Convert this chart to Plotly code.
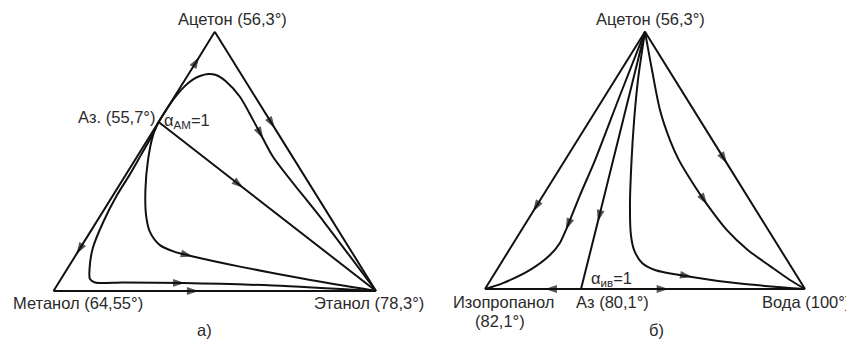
import plotly.graph_objects as go

# ---------------- DATA (triangle-plane coordinates: base 0..100, height 0..100) ----------------
# Left diagram a): Метанол (0,0), Этанол (100,0), Ацетон (50,100), azeotrope on left edge
left_paths = {
    "edge_az_acetone": ([32.6, 44.9, 50.0], [65.2, 89.7, 100.0], [1]),
    "edge_az_methanol": ([32.6, 7.4, 0.0], [65.2, 14.8, 0.0], [1]),
    "edge_acetone_ethanol": ([50.0, 68.3, 100.0], [100.0, 63.4, 0.0], [1]),
    "edge_methanol_ethanol": ([0.0, 44.5, 100.0], [0.0, 0.0, 0.0], [1]),
    "line_az_ethanol": ([32.6, 58.4, 100.0], [65.2, 40.2, 0.0], [1]),
    "curve_upper": ([32.6, 34.9, 37.7, 40.8, 43.3, 45.4, 47.9, 50.4, 53.5, 57.8, 61.9, 64.7, 68.1, 83.9, 100.0],
                    [65.2, 69.8, 74.8, 79.1, 81.6, 82.9, 83.7, 83.3, 80.8, 74.9, 65.9, 59.4, 51.7, 26.6, 0.0], [11]),
    "curve_inner": ([32.6, 30.9, 29.3, 28.5, 28.7, 29.9, 33.0, 37.4, 42.6, 57.8, 78.0, 100.0],
                    [65.2, 60.2, 50.5, 39.0, 29.3, 22.8, 17.7, 15.2, 13.5, 9.4, 4.6, 0.0], [8]),
    "curve_outer": ([32.6, 30.3, 27.1, 23.4, 19.7, 15.5, 12.2, 11.2, 11.3, 12.9, 21.6, 40.2, 68.1, 100.0],
                    [65.2, 59.4, 52.4, 44.4, 37.0, 26.8, 16.6, 8.9, 4.6, 3.3, 3.3, 3.1, 2.1, 0.0], [11]),
}

# Right diagram б): Изопропанол (0,0), Вода (100,0), Ацетон (50,100), azeotrope on base
right_paths = {
    "edge_acetone_ipa": ([50.0, 15.3, 0.0], [100.0, 30.7, 0.0], [1]),
    "edge_acetone_water": ([50.0, 75.3, 100.0], [100.0, 49.4, 0.0], [1]),
    "line_acetone_az": ([50.0, 35.4, 30.0], [100.0, 26.8, 0.0], [1]),
    "base_az_ipa": ([30.0, 19.3, 0.0], [0.0, 0.0, 0.0], [1]),
    "base_az_water": ([30.0, 56.8, 100.0], [0.0, 0.0, 0.0], [1]),
    "curve_to_ipa": ([50.0, 42.2, 34.4, 29.7, 25.5, 23.4, 20.3, 14.1, 5.6, 0.0],
                     [100.0, 75.3, 50.1, 36.5, 23.6, 17.9, 13.2, 7.4, 2.3, 0.0], [4]),
    "curve_sharp": ([50.0, 47.8, 46.6, 45.8, 45.3, 45.6, 46.6, 49.1, 53.1, 64.1, 79.7, 100.0],
                    [100.0, 81.2, 65.6, 50.1, 32.6, 21.0, 15.1, 10.1, 7.4, 4.8, 2.1, 0.0], [9]),
    "curve_to_water": ([50.0, 52.2, 54.7, 57.8, 60.6, 64.7, 69.1, 75.6, 82.2, 89.1, 95.3, 100.0],
                       [100.0, 85.0, 69.5, 57.9, 50.1, 41.6, 33.4, 22.9, 15.1, 8.9, 3.5, 0.0], [6]),
}

left_labels = ["Ацетон (56,3°)", "Аз. (55,7°)", "α<sub>АМ</sub>=1", "Метанол (64,55°)", "Этанол (78,3°)", "а)"]
right_labels = ["Ацетон (56,3°)", "Изопропанол", "(82,1°)", "Аз (80,1°)", "Вода (100°)", "б)", "α<sub>ив</sub>=1"]

# ---------------- LAYOUT ----------------
OFF = 8            # page body margin
FW, FH = 846, 331  # figure size so that figure + margins fill the 854x347 window
LINE = "#111111"
FONT = dict(family="Liberation Sans, Arial, sans-serif", size=16.5, color="#2a2a2a")
PAD = 5.0


def domains(x0, x1, ybase, yapex):
    """window-pixel anchors of a triangle -> paper domains with padding"""
    ux = (x1 - x0) / 100.0
    uy = (ybase - yapex) / 100.0
    dx = [(x0 - OFF - PAD * ux) / FW, (x1 - OFF + PAD * ux) / FW]
    dy = [1 - (ybase - OFF + PAD * uy) / FH, 1 - (yapex - OFF - PAD * uy) / FH]
    return dx, dy


fig = go.Figure()


def add_paths(paths, xa, ya):
    for name, (xs, ys, arrows) in paths.items():
        sizes = [10 if i in arrows else 0 for i in range(len(xs))]
        widths = [1.2 if i in arrows else 0 for i in range(len(xs))]
        fig.add_trace(go.Scatter(
            x=xs, y=ys, xaxis=xa, yaxis=ya, name=name,
            mode="lines+markers",
            line=dict(color=LINE, width=2, shape="spline", smoothing=0.8),
            marker=dict(symbol="arrow", size=sizes, color=LINE, angleref="previous",
                        line=dict(width=widths, color=LINE)),
            hoverinfo="skip", showlegend=False,
        ))


add_paths(left_paths, "x", "y")
add_paths(right_paths, "x2", "y2")

ldx, ldy = domains(53.5, 376.0, 291.0, 31.7)
rdx, rdy = domains(485.0, 805.0, 289.0, 31.7)

ax = dict(range=[-PAD, 100 + PAD], visible=False, fixedrange=True)
fig.update_layout(
    width=FW, height=FH,
    margin=dict(l=0, r=0, t=0, b=0),
    paper_bgcolor="white", plot_bgcolor="rgba(0,0,0,0)",
    xaxis=dict(domain=ldx, **ax), yaxis=dict(domain=ldy, **ax),
    xaxis2=dict(domain=rdx, anchor="y2", **ax), yaxis2=dict(domain=rdy, anchor="x2", **ax),
    showlegend=False,
)


def ann(text, px, py, xanchor="center"):
    fig.add_annotation(text=text, x=(px - OFF) / FW, y=1 - (py - OFF) / FH,
                       xref="paper", yref="paper",
                       xanchor=xanchor, yanchor="middle", showarrow=False, font=FONT)


left_pos = [(232, 19, "center"), (157, 117, "right"), (162, 121, "left"),
            (77.5, 303, "center"), (369, 303, "center"), (204, 330, "center")]
right_pos = [(650, 19, "center"), (503.5, 302, "center"), (500, 321, "center"),
             (612, 302, "center"), (852, 302, "right"), (656, 330, "center"), (589, 279, "left")]

for t, (px, py, a) in zip(left_labels, left_pos):
    ann(t, px, py, a)
for t, (px, py, a) in zip(right_labels, right_pos):
    ann(t, px, py, a)

fig.write_html("out.html")
